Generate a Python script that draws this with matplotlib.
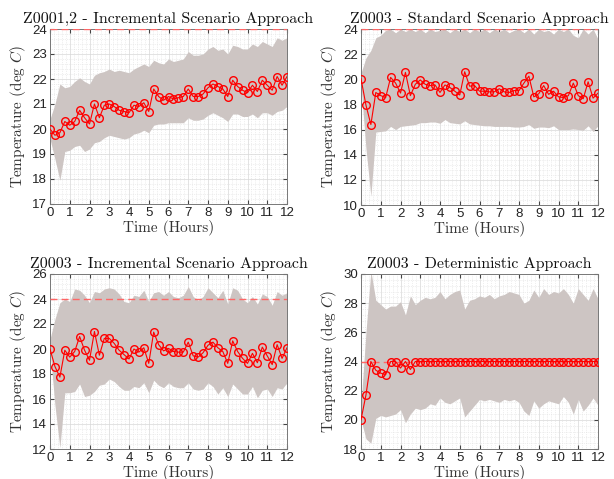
import numpy as np
import matplotlib
matplotlib.use("Agg")
import matplotlib.pyplot as plt
from matplotlib.ticker import MultipleLocator, AutoMinorLocator

plt.rcParams['mathtext.fontset'] = 'cm'
plt.rcParams['font.family'] = ['Liberation Sans', 'DejaVu Sans']

# ---------------- data ----------------
time_h = np.arange(0, 12.01, 0.25)

titles = ["Z0001,2 - Incremental Scenario Approach",
          "Z0003 - Standard Scenario Approach",
          "Z0003 - Incremental Scenario Approach",
          "Z0003 - Deterministic Approach"]
setpoint = 24

p1_mean = [20.0, 19.75, 19.85, 20.3, 20.15, 20.3, 20.75, 20.45, 20.2, 21.0, 20.45, 20.95, 21.0,
           20.9, 20.75, 20.7, 20.65, 20.95, 20.9, 21.05, 20.7, 21.6, 21.3, 21.15, 21.3, 21.2,
           21.25, 21.3, 21.6, 21.3, 21.3, 21.4, 21.65, 21.8, 21.7, 21.6, 21.3, 21.95, 21.7,
           21.55, 21.45, 21.75, 21.5, 21.95, 21.75, 21.55, 22.1, 21.75, 22.1]
p1_upper = [20.4, 21.0, 21.8, 21.65, 21.7, 21.9, 22.05, 21.9, 21.8, 22.15, 22.25, 22.3, 22.4,
            22.3, 22.35, 22.3, 22.25, 22.4, 22.5, 22.6, 22.5, 22.75, 22.65, 22.6, 22.8, 22.7,
            22.75, 22.8, 23.1, 22.95, 22.95, 23.0, 23.2, 23.3, 23.15, 23.2, 23.0, 23.35, 23.3,
            23.2, 23.2, 23.4, 23.3, 23.5, 23.4, 23.3, 23.65, 23.55, 23.65]
p1_lower = [19.6, 18.8, 17.95, 19.1, 19.15, 19.3, 19.35, 19.1, 19.2, 19.45, 19.5, 19.65, 19.75,
            19.7, 19.65, 19.6, 19.65, 19.8, 19.85, 19.95, 19.85, 20.15, 20.2, 20.2, 20.25, 20.25,
            20.25, 20.25, 20.45, 20.35, 20.35, 20.4, 20.55, 20.65, 20.55, 20.45, 20.3, 20.6, 20.6,
            20.5, 20.5, 20.6, 20.45, 20.65, 20.65, 20.55, 20.7, 20.75, 20.9]

p2_mean = [20.05, 17.95, 16.4, 18.95, 18.7, 18.55, 20.15, 19.7, 18.9, 20.55, 18.7, 19.6, 19.95,
           19.6, 19.5, 19.55, 18.95, 19.55, 19.35, 19.05, 18.75, 20.6, 19.45, 19.5, 19.05, 19.05,
           19.0, 19.0, 19.25, 19.0, 18.95, 19.1, 19.1, 19.7, 20.25, 18.6, 18.85, 19.5, 18.8,
           19.05, 18.6, 18.55, 18.7, 19.7, 18.7, 18.45, 19.8, 18.5, 18.9]
p2_upper = [20.5, 21.7, 22.3, 23.3, 23.5, 23.9, 24.0, 23.7, 24.0, 23.8, 24.0, 23.8, 24.0,
            23.7, 24.0, 23.8, 23.9, 24.0, 23.7, 24.0, 23.8, 24.0, 23.7, 24.0, 23.8, 24.0,
            23.7, 24.0, 23.8, 24.0, 23.7, 23.9, 24.0, 23.7, 24.0, 23.6, 24.0, 23.8, 23.9,
            23.6, 24.0, 23.8, 24.0, 23.5, 23.3, 24.0, 23.6, 24.0, 23.2]
p2_lower = [19.5, 14.5, 10.7, 15.8, 15.85, 15.9, 16.25, 16.0, 16.25, 16.3, 16.35, 16.4, 16.55,
            16.55, 16.6, 16.6, 16.5, 16.8, 16.55, 16.5, 16.45, 16.7, 16.45, 16.4, 16.35, 16.3,
            16.3, 16.25, 16.25, 16.25, 16.25, 16.2, 16.2, 16.25, 16.4, 16.1, 16.2, 16.2, 16.15,
            16.3, 16.0, 16.0, 16.0, 16.05, 16.0, 15.95, 16.3, 15.85, 16.3]

p3_mean = [20.0, 18.6, 17.75, 19.9, 19.35, 19.8, 21.0, 19.9, 19.1, 21.4, 19.5, 20.85, 20.85,
           20.45, 19.9, 19.55, 19.2, 20.0, 19.75, 20.1, 18.85, 21.35, 20.35, 19.85, 20.05, 19.8,
           19.75, 19.75, 20.55, 19.45, 19.35, 19.7, 20.3, 20.55, 20.1, 19.8, 18.85, 20.65, 19.8,
           19.25, 18.85, 19.65, 18.9, 20.15, 19.45, 18.75, 20.35, 19.25, 20.1]
p3_upper = [20.8, 22.4, 23.7, 24.0, 23.8, 24.8, 24.7, 24.3, 23.7, 24.6, 24.5, 24.8, 24.9,
            24.8, 24.4, 23.8, 23.7, 24.3, 24.2, 24.7, 23.8, 24.5, 24.6, 24.3, 24.6, 24.2,
            24.1, 24.3, 25.0, 24.2, 23.9, 24.2, 24.9, 24.5, 24.1, 24.7, 23.6, 24.9, 24.7,
            24.0, 23.7, 24.2, 23.6, 24.4, 24.2, 23.5, 24.6, 24.3, 24.5]
p3_lower = [20.0, 15.5, 12.1, 16.5, 16.5, 16.6, 17.2, 16.2, 16.3, 16.6, 17.1, 17.2, 17.6,
            17.4, 17.0, 16.7, 16.7, 17.0, 16.9, 17.3, 16.5, 17.5, 17.1, 16.9, 17.3, 17.0,
            16.9, 16.9, 17.3, 16.8, 16.7, 16.8, 17.3, 17.0, 16.4, 16.9, 16.2, 17.2, 16.8,
            16.4, 16.4, 17.0, 16.1, 16.7, 16.8, 16.2, 16.9, 16.8, 17.3]

p4_mean = [20.0, 21.7, 24.0, 23.4, 23.2, 23.1, 24.0, 24.0, 23.55, 24.0, 23.45] + [24.0] * 38
p4_upper = [21.0, 26.0, 30.2, 28.2, 27.9, 27.6, 27.8, 27.8, 28.1, 27.2, 28.5, 27.9, 28.2,
            28.4, 28.3, 28.4, 28.8, 28.3, 28.6, 28.8, 28.9, 27.6, 28.2, 28.3, 28.5, 28.4,
            28.6, 28.3, 28.5, 28.6, 28.8, 28.7, 28.6, 28.0, 28.2, 28.9, 28.4, 29.0, 28.6,
            28.8, 28.7, 29.0, 28.6, 28.0, 29.0, 28.6, 28.2, 29.0, 28.3]
p4_lower = [20.0, 18.7, 18.4, 20.1, 20.3, 20.2, 20.3, 20.4, 20.7, 19.8, 20.4, 20.8, 20.7,
            20.8, 21.1, 21.0, 21.5, 21.2, 21.1, 21.3, 21.5, 20.2, 20.6, 21.0, 21.4, 21.3,
            21.4, 21.3, 21.2, 21.4, 21.3, 21.4, 21.2, 20.6, 20.3, 21.3, 20.8, 21.1, 21.3,
            21.2, 21.1, 21.6, 21.2, 20.4, 21.4, 20.6, 21.0, 21.5, 21.0]

ylims = [(17, 24), (10, 24), (12, 26), (18, 30)]
ysteps = [1, 2, 2, 2]
means = [p1_mean, p2_mean, p3_mean, p4_mean]
uppers = [p1_upper, p2_upper, p3_upper, p4_upper]
lowers = [p1_lower, p2_lower, p3_lower, p4_lower]

# ---------------- plot ----------------
W, H = 614, 479
fig = plt.figure(figsize=(W / 100, H / 100), dpi=100)
boxes = [(50, 29, 287, 204), (361, 29, 598, 205), (50, 274, 287, 449), (361, 274, 598, 449)]

band_color = '#cdc5c3'
serif = 'cmr10'

for i in range(4):
    x0, y0, x1, y1 = boxes[i]
    ax = fig.add_axes([x0 / W, 1 - y1 / H, (x1 - x0) / W, (y1 - y0) / H])
    ax.fill_between(time_h, lowers[i], uppers[i], color=band_color, lw=0, zorder=2)
    ax.axhline(setpoint, color='#ff6666', ls=(0, (5, 3)), lw=1.0, zorder=3)
    ax.plot(time_h, means[i], color='red', lw=0.8, marker='o', ms=5.5,
            mfc='none', mec='red', mew=1.0, zorder=4)
    ax.set_xlim(0, 12)
    ax.set_ylim(*ylims[i])
    ax.xaxis.set_major_locator(MultipleLocator(1))
    ax.yaxis.set_major_locator(MultipleLocator(ysteps[i]))
    ax.xaxis.set_minor_locator(AutoMinorLocator(5))
    ax.yaxis.set_minor_locator(AutoMinorLocator(5))
    ax.grid(which='major', color='#d8d8d8', lw=0.5, zorder=0)
    ax.grid(which='minor', color='#e0e0e0', lw=0.5, ls=':', zorder=0)
    ax.set_axisbelow(True)
    ax.tick_params(which='both', direction='in', top=True, right=True,
                   labelsize=9.5, colors='#444444', labelcolor='#222222', pad=2)
    ax.tick_params(which='major', length=3)
    ax.tick_params(which='minor', length=0)
    for s in ax.spines.values():
        s.set_color('#777777')
        s.set_linewidth(0.7)
    ax.set_title(titles[i], family=serif, fontsize=11.5, pad=4, color='#111111')
    ax.set_xlabel('Time (Hours)', family=serif, fontsize=11, labelpad=1, color='#333333')
    ax.set_ylabel('Temperature (deg $C$)', family=serif, fontsize=11, labelpad=3, color='#333333')

fig.savefig('out.png', dpi=100)
